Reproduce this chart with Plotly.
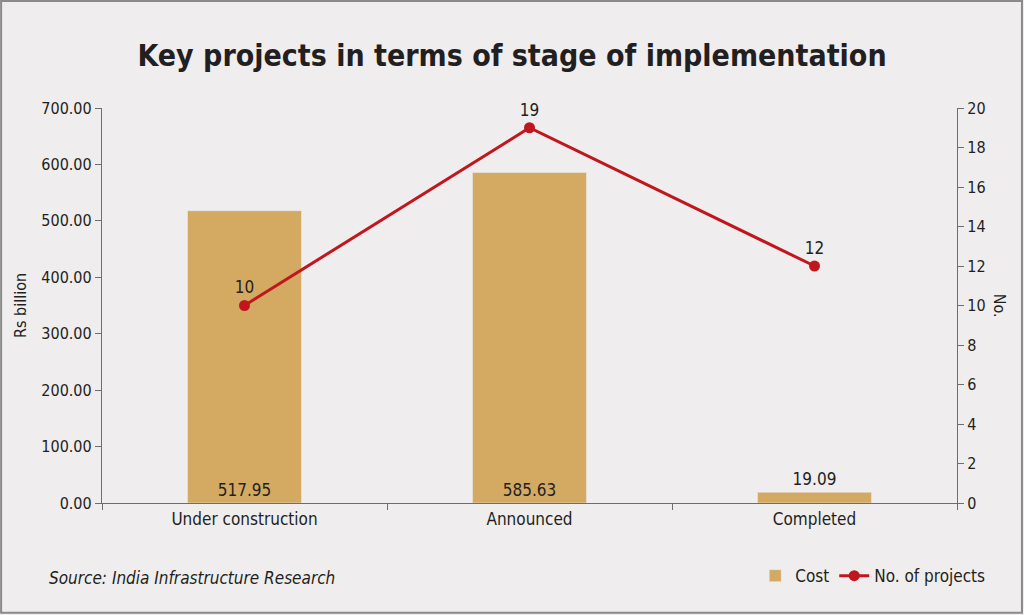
import plotly.graph_objects as go

stages = ['Under construction', 'Announced', 'Completed']
cost = [517.95, 585.63, 19.09]
projects = [10, 19, 12]

font = 'Liberation Sans Narrow, DejaVu Sans Condensed, Liberation Sans, sans-serif'
title_font = 'DejaVu Sans Condensed, Liberation Sans Narrow, Liberation Sans, sans-serif'
ink = '#231f20'
bg = '#efedee'

fig = go.Figure()
fig.add_trace(go.Bar(x=stages, y=cost, name='Cost', width=0.4,
                     marker_color='#d4aa63',
                     text=['%.2f' % v for v in cost],
                     textposition='auto', insidetextanchor='start',
                     constraintext='none',
                     textfont=dict(family=font, size=17, color=ink)))
fig.add_trace(go.Scatter(x=stages, y=projects, name='No. of projects', yaxis='y2',
                         mode='lines+markers+text', text=[str(v) for v in projects],
                         textposition='top center', cliponaxis=False,
                         textfont=dict(family=font, size=17, color=ink),
                         line=dict(color='#c0171f', width=3),
                         marker=dict(color='#c0171f', size=11)))

axis_common = dict(showline=True, linecolor='#6d6d6d', linewidth=1.2, ticks='outside',
                   tickcolor='#6d6d6d', ticklen=6, showgrid=False, zeroline=False,
                   tickfont=dict(family=font, size=16, color=ink))

fig.update_layout(
    width=1024, height=615,
    paper_bgcolor=bg, plot_bgcolor=bg,
    margin=dict(l=102, r=67, t=108, b=112),
    title=dict(text='<b>Key projects in terms of stage of implementation</b>',
               x=0.5, xanchor='center', y=0.91, yanchor='middle',
               font=dict(family=title_font, size=30, color=ink)),
    xaxis=dict(axis_common, tickson='boundaries', ticks='outside',
               tickfont=dict(family=font, size=17, color=ink)),
    yaxis=dict(axis_common, range=[0, 700], dtick=100, tickformat='.2f',
               title=dict(text='Rs billion', font=dict(family=font, size=16, color=ink), standoff=10)),
    yaxis2=dict(axis_common, range=[0, 20], dtick=2, overlaying='y', side='right'),
    legend=dict(orientation='h', x=0.764, y=-0.185, xanchor='left', yanchor='middle',
                bgcolor='rgba(0,0,0,0)', font=dict(family=font, size=17, color=ink)),
    showlegend=True,
    annotations=[
        dict(text='<i>Source: India Infrastructure Research</i>', xref='paper', yref='paper',
             x=-0.064, y=-0.19, xanchor='left', yanchor='middle', showarrow=False,
             font=dict(family=font, size=17, color=ink)),
        dict(text='No.', xref='paper', yref='paper', x=1.05, y=0.5, textangle=90,
             xanchor='center', yanchor='middle', showarrow=False,
             font=dict(family=font, size=16, color=ink)),
    ],
    shapes=[dict(type='rect', xref='paper', yref='paper', x0=-0.118, x1=1.076,
                 y0=-0.278, y1=1.271, line=dict(color='#8a8a8a', width=2))],
)

fig.write_html('out.html', config={'displayModeBar': False},
               post_script="document.body.style.margin='0';")
